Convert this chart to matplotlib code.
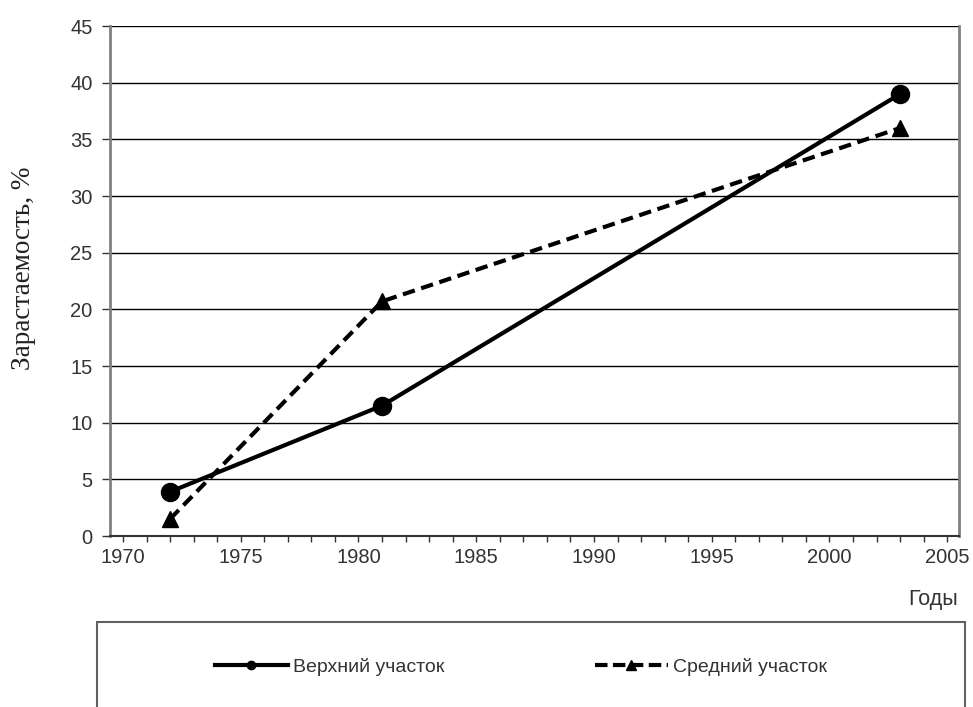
import matplotlib
matplotlib.use("Agg")
import matplotlib.pyplot as plt
from matplotlib.lines import Line2D
from matplotlib.patches import Rectangle

years = [1972, 1981, 2003]
upper = [3.9, 11.5, 39.0]
middle = [1.5, 20.7, 36.0]
labels = ["Верхний участок", "Средний участок"]
xticks = [1970, 1975, 1980, 1985, 1990, 1995, 2000, 2005]
yticks = [0, 5, 10, 15, 20, 25, 30, 35, 40, 45]

fig = plt.figure(figsize=(9.73, 7.07), dpi=100)
ax = fig.add_axes([110/973, 1-536/707, (959-110)/973, (536-26)/707])

ax.plot(years, upper, color="black", lw=3, marker="o", ms=13, solid_capstyle="butt")
ax.plot(years, middle, color="black", lw=3, ls=(0, (3, 1.6)), marker="^", ms=12)

ax.set_xlim(1969.45, 2005.5)
ax.set_ylim(0, 45)
ax.set_xticks(xticks)
ax.set_xticks(range(1970, 2006), minor=True)
ax.set_yticks(yticks)
ax.grid(axis="y", color="black", lw=1)
ax.set_axisbelow(True)

for s in ["left", "right"]:
    ax.spines[s].set_color("#808080")
    ax.spines[s].set_linewidth(2)
ax.spines["top"].set_visible(False)
ax.spines["bottom"].set_color("#333333")
ax.spines["bottom"].set_linewidth(1.5)

ax.tick_params(axis="both", which="both", direction="out", colors="#333333",
               labelcolor="#333333", labelsize=14.5)
ax.tick_params(axis="x", which="major", length=4.5, width=1, pad=4)
ax.tick_params(axis="x", which="minor", length=4.5, width=1)
ax.tick_params(axis="y", length=6, width=1, pad=6.5)
for t in ax.get_xticklabels() + ax.get_yticklabels():
    t.set_fontfamily("Liberation Sans")

fig.text(24/973, 1-268/707, "Зарастаемость, %", rotation=90, ha="center", va="center",
         fontsize=19.5, family="Liberation Serif", color="#222222")
fig.text(958/973, 1-600/707, "Годы", ha="right", va="center", fontsize=15.5,
         family="Liberation Sans", color="#333333")

fig.patches.append(Rectangle((97/973, -0.05), (965-97)/973, 0.05+(707-622)/707,
                             transform=fig.transFigure, fill=False,
                             edgecolor="#606060", lw=1.5))

h1 = Line2D([], [], color="black", lw=3, marker="o", ms=6)
h2 = Line2D([], [], color="black", lw=3, ls=(0, (3, 1.3)), marker="^", ms=7)
legprops = {"family": "Liberation Sans", "size": 14}
fig.legend([h1], [labels[0]], loc="center left", bbox_to_anchor=(215/973, 1-667/707),
           frameon=False, handlelength=3.75, handletextpad=0.26, borderpad=0,
           borderaxespad=0, prop=legprops, labelcolor="#333333")
fig.legend([h2], [labels[1]], loc="center left", bbox_to_anchor=(595/973, 1-667/707),
           frameon=False, handlelength=3.75, handletextpad=0.26, borderpad=0,
           borderaxespad=0, prop=legprops, labelcolor="#333333")

fig.savefig("out.png", dpi=100)
